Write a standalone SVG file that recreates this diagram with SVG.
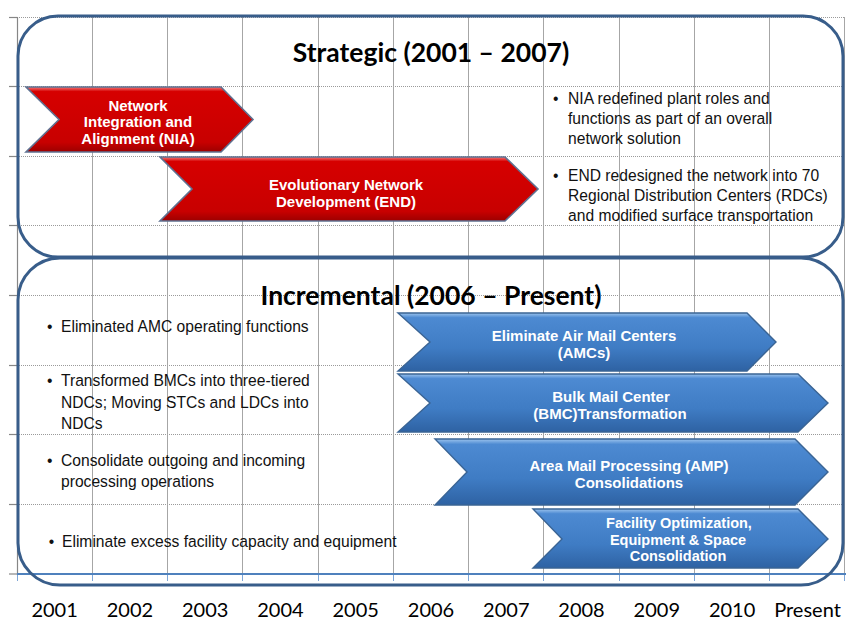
<svg xmlns="http://www.w3.org/2000/svg" width="846" height="620" viewBox="0 0 846 620">
  <style>
    .vgrid { stroke: #a6a6a6; stroke-width: 1; }
    .hgrid { stroke: #9a9a9a; stroke-width: 1; stroke-dasharray: 1 1; }
    .axis-y { stroke: #868686; stroke-width: 1.2; }
    .axis-x { stroke: #4f81bd; stroke-width: 2.2; }
    .xtick { stroke: #7fa6d6; stroke-width: 1; }
    .frame { fill: none; stroke: #385d8a; stroke-width: 3; }
    .title { font-family: Lato, "Liberation Sans", sans-serif; font-weight: bold; font-size: 26.5px; fill: #000; text-anchor: middle; }
    .year { font-family: Lato, "Liberation Sans", sans-serif; font-size: 20px; fill: #000; text-anchor: middle; }
    .bullet { font-family: "Liberation Sans", Arial, sans-serif; font-size: 17px; fill: #111; }
    .lbl { font-family: "Liberation Sans", Arial, sans-serif; font-weight: bold; font-size: 15px; fill: #fff; text-anchor: middle; }
    .lbl-sm { font-size: 14.5px; }
    .red { fill: url(#redFill); stroke: #5f7191; stroke-width: 1.6; stroke-linejoin: miter; }
    .blue { fill: url(#blueFill); stroke: #3a6494; stroke-width: 1.4; stroke-linejoin: miter; }
  </style>
  <defs>
    <linearGradient id="redFill" x1="0" y1="0" x2="0" y2="1">
      <stop offset="0" stop-color="#f27a7a"/>
      <stop offset="0.07" stop-color="#d60000"/>
      <stop offset="0.85" stop-color="#c80000"/>
      <stop offset="1" stop-color="#9c0000"/>
    </linearGradient>
    <linearGradient id="blueFill" x1="0" y1="0" x2="0" y2="1">
      <stop offset="0" stop-color="#9cc4ee"/>
      <stop offset="0.08" stop-color="#4d8ad2"/>
      <stop offset="0.6" stop-color="#3f7cc4"/>
      <stop offset="1" stop-color="#2e62a3"/>
    </linearGradient>
  </defs>

  <!-- chart grid -->
  <g id="grid">
    <g class="hgrid">
      <line x1="17" y1="17.5" x2="845" y2="17.5"/>
      <line x1="17" y1="86.5" x2="845" y2="86.5"/>
      <line x1="17" y1="156.5" x2="845" y2="156.5"/>
      <line x1="17" y1="225.5" x2="845" y2="225.5"/>
      <line x1="17" y1="295.5" x2="845" y2="295.5"/>
      <line x1="17" y1="365.5" x2="845" y2="365.5"/>
      <line x1="17" y1="434.5" x2="845" y2="434.5"/>
      <line x1="17" y1="504.5" x2="845" y2="504.5"/>
    </g>
    <g class="vgrid">
      <line x1="92.5" y1="17" x2="92.5" y2="574"/>
      <line x1="167.5" y1="17" x2="167.5" y2="574"/>
      <line x1="242.5" y1="17" x2="242.5" y2="574"/>
      <line x1="318.5" y1="17" x2="318.5" y2="574"/>
      <line x1="393.5" y1="17" x2="393.5" y2="574"/>
      <line x1="468.5" y1="17" x2="468.5" y2="574"/>
      <line x1="543.5" y1="17" x2="543.5" y2="574"/>
      <line x1="619.5" y1="17" x2="619.5" y2="574"/>
      <line x1="694.5" y1="17" x2="694.5" y2="574"/>
      <line x1="769.5" y1="17" x2="769.5" y2="574"/>
      <line x1="844.5" y1="17" x2="844.5" y2="574"/>
    </g>
    <g class="axis-y">
      <line x1="17.5" y1="17" x2="17.5" y2="575"/>
      <line x1="9" y1="17.5" x2="17.5" y2="17.5"/>
      <line x1="9" y1="86.5" x2="17.5" y2="86.5"/>
      <line x1="9" y1="156.5" x2="17.5" y2="156.5"/>
      <line x1="9" y1="225.5" x2="17.5" y2="225.5"/>
      <line x1="9" y1="295.5" x2="17.5" y2="295.5"/>
      <line x1="9" y1="365.5" x2="17.5" y2="365.5"/>
      <line x1="9" y1="434.5" x2="17.5" y2="434.5"/>
      <line x1="9" y1="504.5" x2="17.5" y2="504.5"/>
      <line x1="9" y1="574" x2="17.5" y2="574"/>
    </g>
    <g class="xtick">
      <line x1="17.5" y1="574" x2="17.5" y2="581"/>
      <line x1="92.5" y1="574" x2="92.5" y2="581"/>
      <line x1="167.5" y1="574" x2="167.5" y2="581"/>
      <line x1="242.5" y1="574" x2="242.5" y2="581"/>
      <line x1="318.5" y1="574" x2="318.5" y2="581"/>
      <line x1="393.5" y1="574" x2="393.5" y2="581"/>
      <line x1="468.5" y1="574" x2="468.5" y2="581"/>
      <line x1="543.5" y1="574" x2="543.5" y2="581"/>
      <line x1="619.5" y1="574" x2="619.5" y2="581"/>
      <line x1="694.5" y1="574" x2="694.5" y2="581"/>
      <line x1="769.5" y1="574" x2="769.5" y2="581"/>
      <line x1="844.5" y1="574" x2="844.5" y2="581"/>
    </g>
    <line class="axis-x" x1="17" y1="574" x2="846" y2="574"/>
  </g>

  <!-- year axis labels -->
  <g id="years" class="year">
    <text x="54.6" y="617">2001</text>
    <text x="129.9" y="617">2002</text>
    <text x="205.2" y="617">2003</text>
    <text x="280.4" y="617">2004</text>
    <text x="355.7" y="617">2005</text>
    <text x="431" y="617">2006</text>
    <text x="506.3" y="617">2007</text>
    <text x="581.5" y="617">2008</text>
    <text x="656.8" y="617">2009</text>
    <text x="732.1" y="617">2010</text>
    <text x="807.5" y="617">Present</text>
  </g>

  <!-- phase panels; bullet text is set in a horizontally condensed frame (x scaled by 0.92) -->
  <g id="strategic">
    <rect class="frame" x="18" y="16" width="825" height="241" rx="40" ry="40"/>
    <text class="title" x="431" y="62">Strategic (2001 – 2007)</text>
    <g class="bullet" transform="scale(0.92 1)">
      <text x="601.1" y="104">•</text>
      <text x="617.4" y="104">NIA redefined plant roles and</text>
      <text x="617.4" y="124">functions as part of an overall</text>
      <text x="617.4" y="144">network solution</text>
      <text x="601.1" y="181">•</text>
      <text x="617.4" y="181">END redesigned the network into 70</text>
      <text x="617.4" y="201">Regional Distribution Centers (RDCs)</text>
      <text x="617.4" y="221">and modified surface transportation</text>
    </g>
  </g>
  <g id="incremental">
    <rect class="frame" x="18" y="258" width="825" height="327" rx="42" ry="42"/>
    <text class="title" x="431" y="305">Incremental (2006 – Present)</text>
    <g class="bullet" transform="scale(0.92 1)">
      <text x="51.1" y="332">•</text>
      <text x="66.3" y="332">Eliminated AMC operating functions</text>
      <text x="51.1" y="386">•</text>
      <text x="66.3" y="386">Transformed BMCs into three-tiered</text>
      <text x="66.3" y="408">NDCs; Moving STCs and LDCs into</text>
      <text x="66.3" y="429">NDCs</text>
      <text x="51.1" y="466">•</text>
      <text x="66.3" y="466">Consolidate outgoing and incoming</text>
      <text x="66.3" y="487">processing operations</text>
      <text x="53" y="547">•</text>
      <text x="67.4" y="547">Eliminate excess facility capacity and equipment</text>
    </g>
  </g>

  <!-- strategic initiatives -->
  <g id="nia">
    <polygon class="red" points="26,87 221,87 253,119.5 221,152 26,152 59,119.5"/>
    <text class="lbl" x="138" y="111">Network</text>
    <text class="lbl" x="138" y="127">Integration and</text>
    <text class="lbl" x="138" y="144">Alignment (NIA)</text>
  </g>
  <g id="end">
    <polygon class="red" points="160,157 505,157 538,189 505,221 160,221 192,189"/>
    <text class="lbl" x="346" y="190">Evolutionary Network</text>
    <text class="lbl" x="346" y="207">Development (END)</text>
  </g>

  <!-- incremental initiatives -->
  <g id="amc">
    <polygon class="blue" points="398,313 747,313 776,342 747,371 398,371 430,342"/>
    <text class="lbl" x="584" y="341">Eliminate Air Mail Centers</text>
    <text class="lbl" x="584" y="358">(AMCs)</text>
  </g>
  <g id="bmc">
    <polygon class="blue" points="398,374 798,374 828,403 798,432 398,432 430,403"/>
    <text class="lbl" x="611" y="402">Bulk Mail Center</text>
    <text class="lbl" x="610" y="419">(BMC)Transformation</text>
  </g>
  <g id="amp">
    <polygon class="blue" points="435,439 795,439 828,472 795,505 435,505 467,472"/>
    <text class="lbl" x="629" y="471">Area Mail Processing (AMP)</text>
    <text class="lbl" x="629" y="488">Consolidations</text>
  </g>
  <g id="fso">
    <polygon class="blue" points="533,509 798,509 828,539 798,568 533,568 562,539"/>
    <text class="lbl lbl-sm" x="679" y="528">Facility Optimization,</text>
    <text class="lbl lbl-sm" x="678" y="544.5">Equipment &amp; Space</text>
    <text class="lbl lbl-sm" x="678" y="561">Consolidation</text>
  </g>
</svg>
